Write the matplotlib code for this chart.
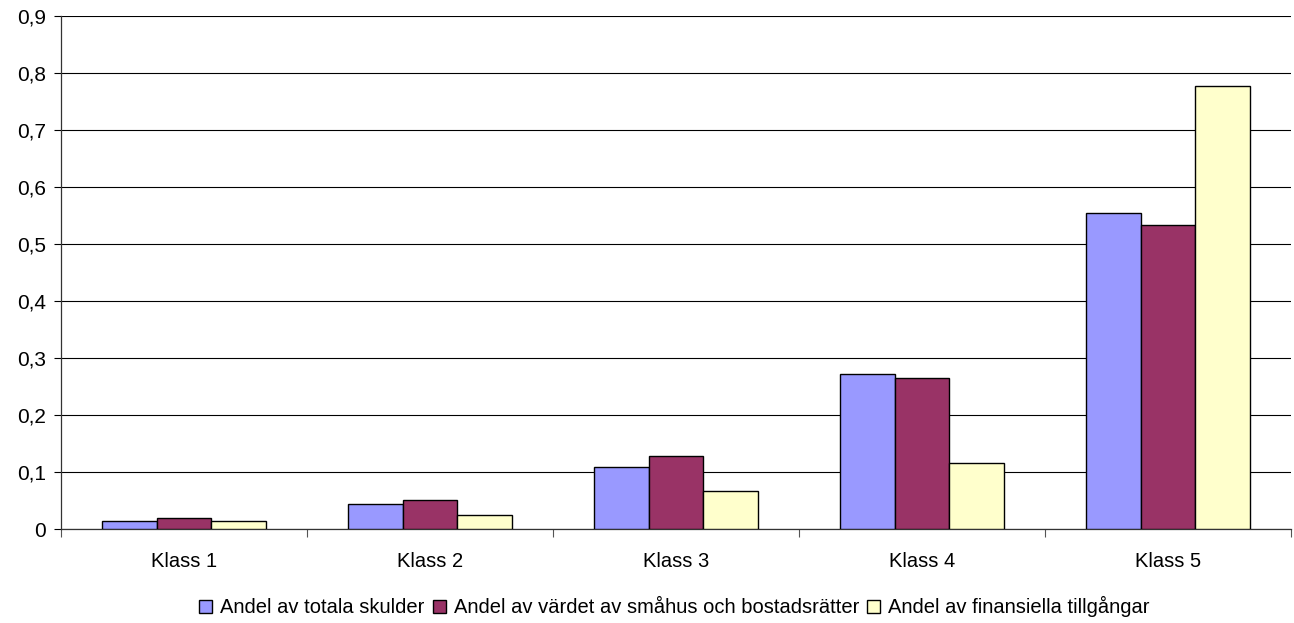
import numpy as np
import matplotlib
matplotlib.use("Agg")
import matplotlib.pyplot as plt
from matplotlib.ticker import FuncFormatter

# data
categories = ["Klass 1", "Klass 2", "Klass 3", "Klass 4", "Klass 5"]
skulder = [0.015, 0.045, 0.109, 0.272, 0.555]
smahus = [0.020, 0.052, 0.128, 0.265, 0.534]
finansiella = [0.015, 0.025, 0.067, 0.116, 0.777]
series_names = ["Andel av totala skulder",
                "Andel av värdet av småhus och bostadsrätter",
                "Andel av finansiella tillgångar"]
colors = ["#9999FF", "#993366", "#FFFFCC"]

plt.rcParams['font.family'] = ['Liberation Sans', 'DejaVu Sans']

fig = plt.figure(figsize=(12.94, 6.23), dpi=100)
ax = fig.add_axes([0.0471, 0.1504, 0.9506, 0.8239])

x = np.arange(len(categories))
w = 1 / 4.5
for i, (vals, name, c) in enumerate(zip([skulder, smahus, finansiella], series_names, colors)):
    ax.bar(x + (i - 1) * w, vals, width=w, color=c, edgecolor="black",
           linewidth=1.0, label=name, zorder=3)

ax.set_xlim(-0.5, len(categories) - 0.5)
ax.set_ylim(0, 0.9)
ax.set_yticks(np.arange(0, 0.91, 0.1))
ax.yaxis.set_major_formatter(FuncFormatter(
    lambda v, p: "0" if abs(v) < 1e-9 else f"{v:.1f}".replace(".", ",")))
ax.yaxis.grid(True, color="black", linewidth=0.8, zorder=0)

ax.set_xticks(x)
ax.set_xticklabels(categories)
ax.set_xticks(np.arange(-0.5, len(categories)), minor=True)
ax.tick_params(axis="x", which="major", length=0, pad=16, labelsize=14.5)
ax.tick_params(axis="x", which="minor", length=6, width=0.8, color="#555555")
ax.tick_params(axis="y", length=5, width=0.8, labelsize=15, pad=6)

for s in ["top", "right"]:
    ax.spines[s].set_visible(False)
ax.spines["left"].set_linewidth(0.9)
ax.spines["bottom"].set_linewidth(0.9)
ax.spines["left"].set_color("#333333")
ax.spines["bottom"].set_color("#333333")

fig.legend(loc="center", bbox_to_anchor=(0.5213, 0.026), ncol=3, frameon=False,
           fontsize=14.5, handlelength=0.65, handleheight=0.65, handletextpad=0.4,
           columnspacing=0.4, borderaxespad=0)

fig.savefig("out.png", dpi=100)
